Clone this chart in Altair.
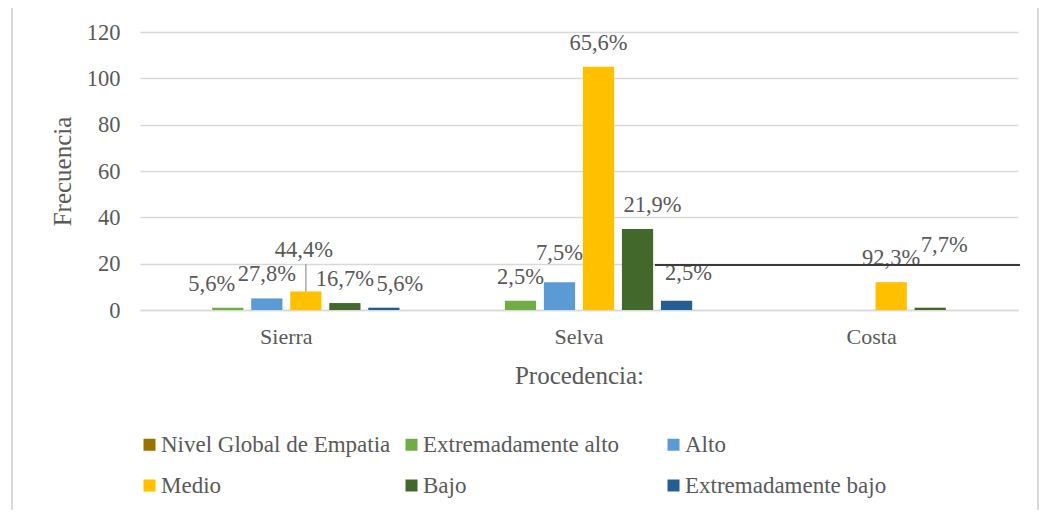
import altair as alt
import pandas as pd

procedencias = ["Sierra", "Selva", "Costa"]
niveles = ["Nivel Global de Empatia", "Extremadamente  alto", "Alto", "Medio", "Bajo", "Extremadamente  bajo"]
colores = ["#997300", "#70AD47", "#5B9BD5", "#FFC000", "#43682B", "#255E91"]

# frecuencias por nivel (orden de "niveles"); None = sin barra
sierra = [None, 1, 5, 8, 3, 1]
selva = [None, 4, 12, 105, 35, 4]
costa = [None, None, None, 12, 1, None]

sierra_pct = [None, "5,6%", "27,8%", "44,4%", "16,7%", "5,6%"]
selva_pct = [None, "2,5%", "7,5%", "65,6%", "21,9%", "2,5%"]
costa_pct = [None, None, None, "92,3%", "7,7%", None]

rows = []
for proc, vals, pcts in zip(procedencias, [sierra, selva, costa], [sierra_pct, selva_pct, costa_pct]):
    for niv, v, p in zip(niveles, vals, pcts):
        if v is not None:
            rows.append({"Procedencia": proc, "Nivel": niv, "Frecuencia": v,
                         "Etiqueta": p, "clave": proc + "|" + niv})
df = pd.DataFrame(rows)

FONT = "'Liberation Serif', 'Times New Roman', Times, serif"
GRAY = "#595959"

x_enc = alt.X("Procedencia:N", sort=procedencias,
              scale=alt.Scale(paddingInner=0.2, paddingOuter=0.1),
              axis=alt.Axis(title="Procedencia:", labelAngle=0, ticks=False, tickSize=0,
                            domainColor="#D9D9D9", domainWidth=1.5,
                            labelPadding=16, titlePadding=16,
                            labelFontSize=22, titleFontSize=25,
                            labelColor=GRAY, titleColor=GRAY,
                            labelFont=FONT, titleFont=FONT, titleFontWeight="normal"))
xo_enc = alt.XOffset("Nivel:N", sort=niveles,
                     scale=alt.Scale(domain=niveles, paddingInner=0.2, paddingOuter=0.1))
y_enc = alt.Y("Frecuencia:Q", scale=alt.Scale(domain=[0, 120], nice=False),
              axis=alt.Axis(title="Frecuencia", values=[0, 20, 40, 60, 80, 100, 120],
                            domain=False, ticks=False, tickSize=0, labelPadding=20,
                            titlePadding=11, gridColor="#D9D9D9", gridWidth=1.3,
                            labelFontSize=22.5, titleFontSize=25,
                            labelColor=GRAY, titleColor=GRAY,
                            labelFont=FONT, titleFont=FONT, titleFontWeight="normal"))

base = alt.Chart(df)

bars = base.mark_bar().encode(
    x=x_enc, xOffset=xo_enc, y=y_enc,
    color=alt.Color("Nivel:N", scale=alt.Scale(domain=niveles, range=colores),
                    legend=alt.Legend(title=None, orient="none", legendX=-2, legendY=401,
                                      direction="horizontal", columns=3, gridAlign="all",
                                      columnPadding=9, rowPadding=17, padding=0,
                                      symbolType="square", symbolSize=144, symbolStrokeWidth=0,
                                      labelOffset=0, labelFontSize=23, labelFont=FONT,
                                      labelColor=GRAY, labelLimit=400)),
)

# ajustes manuales de etiquetas (como en el gráfico original)
ajustes = {
    "Sierra|Extremadamente  alto": (-16, 0),
    "Sierra|Extremadamente  bajo": (16, 0),
    "Sierra|Medio": (-2, -17),
    "Selva|Bajo": (15, 0),
    "Selva|Extremadamente  bajo": (12, -4),
    "Selva|Alto": (0, -5),
    "Costa|Bajo": (14, -39),
}

text_style = dict(fontSize=22.5, font=FONT, color=GRAY, baseline="alphabetic", align="center")

layers = [bars]
layers.append(
    base.transform_filter(~alt.FieldOneOfPredicate(field="clave", oneOf=list(ajustes.keys())))
    .mark_text(dy=-17, **text_style)
    .encode(x=alt.X("Procedencia:N", sort=procedencias), xOffset=alt.XOffset("Nivel:N", sort=niveles),
            y="Frecuencia:Q", text="Etiqueta:N")
)
for k, (ddx, ddy) in ajustes.items():
    layers.append(
        base.transform_filter(alt.FieldEqualPredicate(field="clave", equal=k))
        .mark_text(dx=ddx, dy=-17 + ddy, **text_style)
        .encode(x=alt.X("Procedencia:N", sort=procedencias), xOffset=alt.XOffset("Nivel:N", sort=niveles),
                y="Frecuencia:Q", text="Etiqueta:N")
    )

# línea guía de la etiqueta 44,4%
leader = base.transform_filter(alt.FieldEqualPredicate(field="clave", equal="Sierra|Medio")).mark_rule(
    color="#A6A6A6", strokeWidth=1.5
).encode(x=alt.X("Procedencia:N", sort=procedencias), xOffset=alt.XOffset("Nivel:N", sort=niveles),
         y="Frecuencia:Q", y2=alt.value(232))
layers.append(leader)

# línea horizontal negra presente en la imagen original
black_line = alt.Chart(df).mark_rule(color="#3A3A3A", strokeWidth=2).encode(
    x=alt.value(515), x2=alt.value(880), y=alt.datum(19.4)
)
layers.append(black_line)

# marco del gráfico
frame = alt.Chart(df).mark_rect(fillOpacity=0, stroke="#D9D9D9", strokeWidth=2).encode(
    x=alt.value(-128), x2=alt.value(898), y=alt.value(-60), y2=alt.value(600)
)
layers.append(frame)

chart = alt.layer(*layers).properties(
    width=878, height=278,
    padding={"left": 132, "top": 24, "right": 21, "bottom": 200},
    autosize=alt.AutoSizeParams(type="none"),
).configure(font=FONT, view=alt.ViewConfig(stroke=None))

chart.save("out.html", embed_options={"renderer": "svg", "actions": False})
